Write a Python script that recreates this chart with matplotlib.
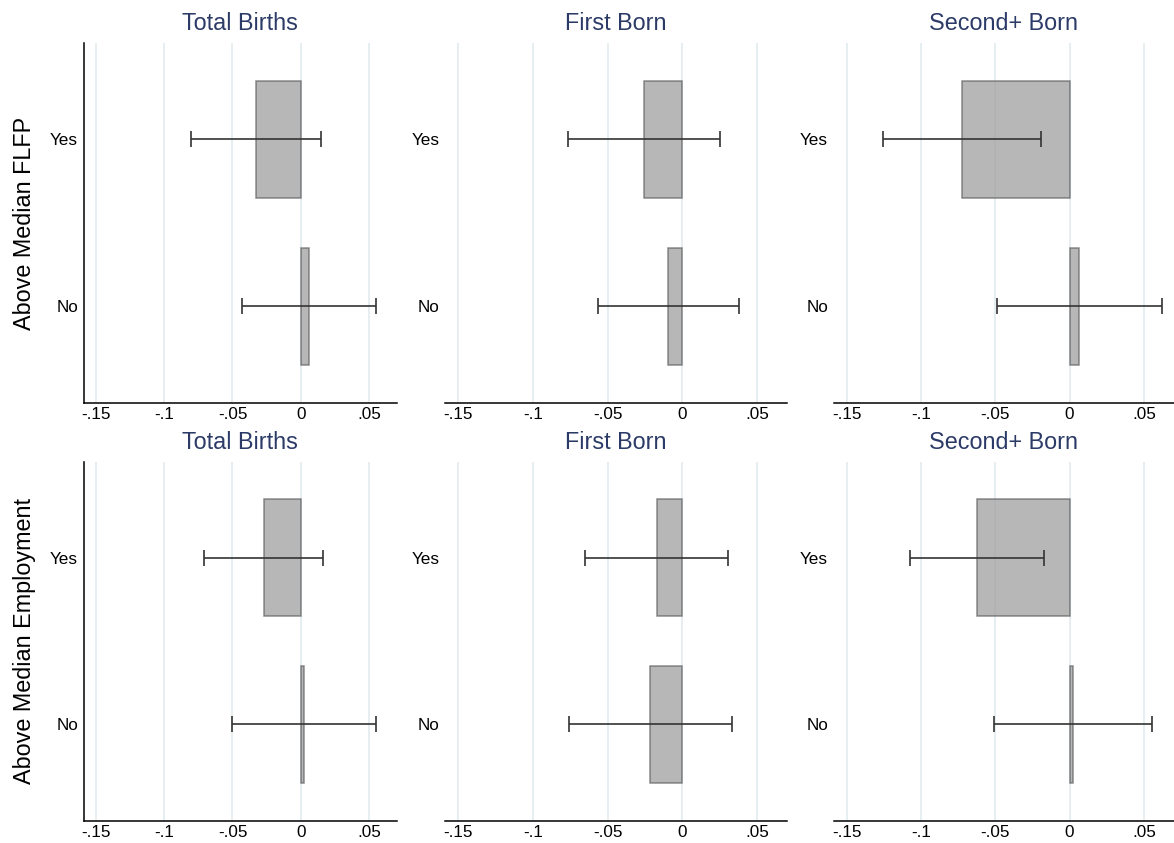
import numpy as np
import matplotlib
matplotlib.use("Agg")
import matplotlib.pyplot as plt

plt.rcParams['font.family'] = ['Liberation Sans', 'DejaVu Sans']

# Categories and panel labels
categories = ["No", "Yes"]
col_titles = ["Total Births", "First Born", "Second+ Born"]
row_labels = ["Above Median FLFP", "Above Median Employment"]
xticks = [-0.15, -0.1, -0.05, 0, 0.05]
xtick_labels = ["-.15", "-.1", "-.05", "0", ".05"]

# Point estimates [No, Yes] per panel, rows: FLFP, Employment
flfp_coef = [[0.0058, -0.0330], [-0.0093, -0.0255], [0.0066, -0.0724]]
flfp_lo = [[-0.0432, -0.0805], [-0.0566, -0.0763], [-0.0489, -0.1254]]
flfp_hi = [[0.0549, 0.0146], [0.0377, 0.0252], [0.0620, -0.0194]]

emp_coef = [[0.0024, -0.0270], [-0.0214, -0.0172], [0.0021, -0.0626]]
emp_lo = [[-0.0501, -0.0706], [-0.0760, -0.0651], [-0.0511, -0.1078]]
emp_hi = [[0.0549, 0.0163], [0.0333, 0.0308], [0.0554, -0.0174]]

coefs = [flfp_coef, emp_coef]
lows = [flfp_lo, emp_lo]
highs = [flfp_hi, emp_hi]

W, H = 1174, 843
fig = plt.figure(figsize=(W / 100, H / 100), dpi=100)

# axes boxes in pixels: (left, width) per column, (top, bottom) per row
col_px = [(83.5, 313), (444.8, 342), (833.5, 340)]
row_px = [(43, 403), (462, 821)]

title_color = "#2b3a67"
grid_color = "#e2ebf0"

for r in range(2):
    top, bot = row_px[r]
    for c in range(3):
        left, width = col_px[c]
        ax = fig.add_axes([left / W, 1 - bot / H, width / W, (bot - top) / H])
        y = np.arange(len(categories))
        est = np.array(coefs[r][c])
        lo = np.array(lows[r][c])
        hi = np.array(highs[r][c])

        for xv in xticks:
            ax.axvline(xv, color=grid_color, lw=1.2, zorder=0)

        ax.barh(y, est, height=0.7, color="#999999", alpha=0.7,
                edgecolor="#5e5e5e", linewidth=1.1, zorder=2)
        ax.errorbar(est, y, xerr=[est - lo, hi - est], fmt="none",
                    ecolor="#333333", elinewidth=1.4, capsize=5.5,
                    capthick=1.4, alpha=0.85, zorder=3)

        ax.set_xlim(-0.159, 0.07)
        ax.set_ylim(-0.58, 1.575)
        ax.set_xticks(xticks)
        ax.set_xticklabels(xtick_labels)
        ax.set_yticks(y)
        ax.set_yticklabels(categories)
        ax.tick_params(axis="both", length=0, labelsize=12.3, colors="black")
        ax.tick_params(axis="x", pad=3)
        ax.tick_params(axis="y", pad=4)
        ax.set_title(col_titles[c], color=title_color, fontsize=16.8, pad=9)

        for side in ["top", "right"]:
            ax.spines[side].set_visible(False)
        if c > 0:
            ax.spines["left"].set_visible(False)
        ax.spines["left"].set_linewidth(1.1)
        ax.spines["bottom"].set_linewidth(1.1)

    fig.text(25 / W, 1 - (top + bot) / 2 / H, row_labels[r], rotation=90,
             ha="center", va="center", fontsize=16.8)

fig.savefig("out.png", dpi=100)
